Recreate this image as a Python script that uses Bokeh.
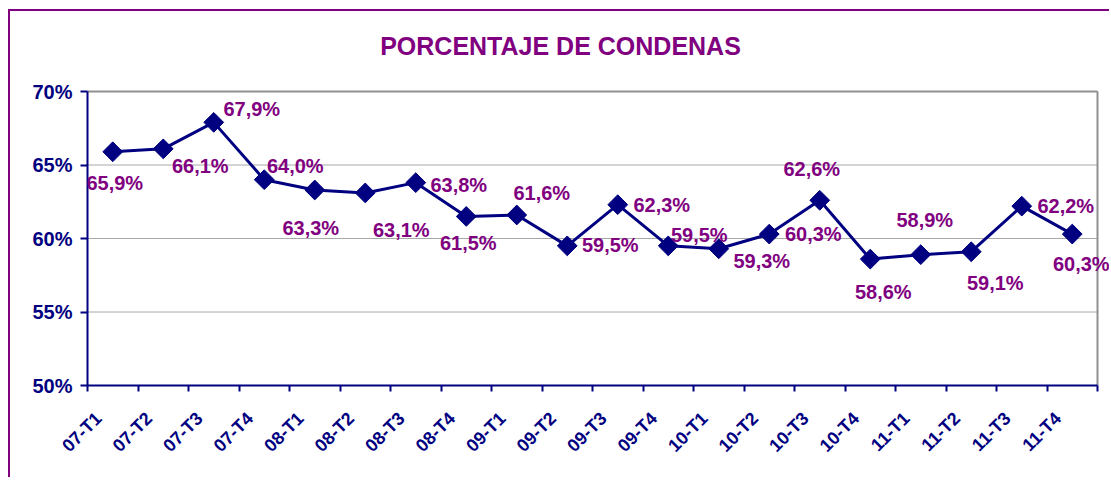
import math
from bokeh.plotting import figure
from bokeh.models import (Range1d, FixedTicker, ColumnDataSource, LabelSet, Label)
from bokeh.core.properties import value
from bokeh.embed import file_html
from bokeh.resources import INLINE

# ---- data ----
categories = ["07-T1", "07-T2", "07-T3", "07-T4", "08-T1", "08-T2", "08-T3", "08-T4",
              "09-T1", "09-T2", "09-T3", "09-T4", "10-T1", "10-T2", "10-T3", "10-T4",
              "11-T1", "11-T2", "11-T3", "11-T4"]
values = [65.9, 66.1, 67.9, 64.0, 63.3, 63.1, 63.8, 61.5, 61.6, 59.5,
          62.3, 59.5, 59.3, 60.3, 62.6, 58.6, 58.9, 59.1, 62.2, 60.3]
y_ticks = [50, 55, 60, 65, 70]
y_tick_labels = ["50%", "55%", "60%", "65%", "70%"]
title_text = "PORCENTAJE DE CONDENAS"

# label placement offsets (pixels, style only; dy positive = downwards)
label_dx = [2, 37, 38, 31, -4, 36, 43, 2, 25, 43, 44, 31, 43, 44, -8, 13, 4, 24, 44, 9]
label_dy = [31, 17, -13, -14, 38, 37, 2, 27, -22, -1, 0, -11, 12, 0, -31, 33, -35, 31, 0, 30]

PURPLE = "#800080"
NAVY = "#000080"
GRID = "#A8A8A8"
BORDER = "#909090"
FONT = "Liberation Sans"

n = len(categories)
y_lo, y_hi = y_ticks[0], y_ticks[-1]
xs = [i + 0.5 for i in range(n)]
labels = [("%.1f%%" % v).replace(".", ",") for v in values]

src = ColumnDataSource(dict(x=xs, y=values, lab=labels, dx=label_dx,
                            dy_up=[-d for d in label_dy]))

# The frame covers the whole canvas so that data labels are not clipped;
# the plot area (0..n, 50..70) sits inside it at the reference position.
W, H = 1101, 468
px_x = 50.5           # pixels per category
px_y = 14.7           # pixels per percentage point
left_pad, right_pad, top_pad, bottom_pad = 77, 14, 80, 94
x_range = Range1d(-left_pad / px_x, n + right_pad / px_x)
y_range = Range1d(y_lo - bottom_pad / px_y, y_hi + top_pad / px_y)

p = figure(width=W, height=H, output_backend="svg", toolbar_location=None,
           x_range=x_range, y_range=y_range,
           min_border_left=0, min_border_right=0, min_border_top=0, min_border_bottom=0)

# outer chart border (only top and left edges are visible in the reference)
p.styles = {"margin-left": "8px", "margin-top": "9px",
            "border-left": "2px solid #800080", "border-top": "2px solid #800080"}

p.background_fill_color = "white"
p.border_fill_color = "white"
p.outline_line_color = None
p.xgrid.visible = False
p.ygrid.visible = False

# horizontal gridlines and plot-area border
grid_y = y_ticks[1:]
p.segment(x0=[0] * len(grid_y), y0=grid_y, x1=[n] * len(grid_y), y1=grid_y,
          line_color=GRID, line_width=1)
p.segment(x0=[0, n], y0=[y_hi, y_lo], x1=[n, n], y1=[y_hi, y_hi],
          line_color=BORDER, line_width=2)

# x axis
xa = p.xaxis[0]
xa.fixed_location = y_lo
xa.bounds = (0, n)
xa.ticker = FixedTicker(ticks=[i + 0.22 for i in range(n)], minor_ticks=list(range(n + 1)))
xa.major_label_overrides = {i + 0.22: c for i, c in enumerate(categories)}
xa.major_label_orientation = math.pi / 4
xa.major_tick_out = 0
xa.major_tick_in = 0
xa.minor_tick_out = 6
xa.minor_tick_in = 0
xa.minor_tick_line_color = NAVY
xa.minor_tick_line_width = 2
xa.axis_line_color = NAVY
xa.axis_line_width = 2
xa.major_label_text_font = FONT
xa.major_label_text_font_style = "bold"
xa.major_label_text_font_size = "18px"
xa.major_label_text_color = NAVY
xa.major_label_standoff = 24

# y axis
ya = p.yaxis[0]
ya.fixed_location = 0
ya.bounds = (y_lo, y_hi)
ya.ticker = FixedTicker(ticks=y_ticks, minor_ticks=[])
ya.major_label_overrides = {t: l for t, l in zip(y_ticks, y_tick_labels)}
ya.major_tick_out = 7
ya.major_tick_in = 0
ya.major_tick_line_color = NAVY
ya.major_tick_line_width = 2
ya.axis_line_color = NAVY
ya.axis_line_width = 2
ya.major_label_text_font = FONT
ya.major_label_text_font_style = "bold"
ya.major_label_text_font_size = "20px"
ya.major_label_text_color = NAVY
ya.major_label_standoff = 8

# series
p.line("x", "y", source=src, line_color=NAVY, line_width=3)
p.scatter("x", "y", source=src, marker="square", angle=math.pi / 4, size=14,
          fill_color=NAVY, line_color=NAVY)

p.add_layout(LabelSet(x="x", y="y", text="lab", source=src,
                      x_offset="dx", y_offset="dy_up",
                      text_font=value(FONT), text_font_style="bold", text_font_size="20px",
                      text_color=PURPLE, text_align="center", text_baseline="middle"))

# title, centred above the plot area as in the reference
p.add_layout(Label(x=n / 2, y=y_hi, x_offset=-32, y_offset=46, text=title_text,
                   text_font=FONT, text_font_style="bold", text_font_size="25px",
                   text_color=PURPLE, text_align="center", text_baseline="middle"))

open("out.html", "w").write(file_html(p, INLINE))
